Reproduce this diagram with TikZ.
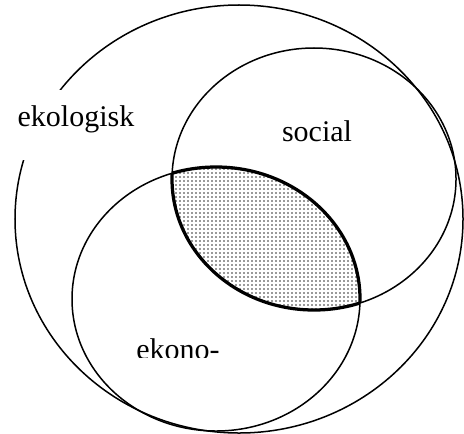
\documentclass[tikz,border=0pt]{standalone}
\usepackage{fontspec}
\setmainfont{Liberation Serif}
\usetikzlibrary{patterns.meta}
\tikzstyle{ring} = [line width=0.6pt]
\tikzstyle{lens} = [line width=1.3pt]
\tikzstyle{label} = [font=\fontsize{12pt}{14pt}\selectfont, inner sep=0pt, anchor=base]
\tikzdeclarepattern{
  name=fine dots, type=uncolored,
  bottom left={(-.4pt,-.4pt)}, top right={(.4pt,.4pt)},
  tile size={(1.6pt,1.6pt)},
  code={\fill (0,0) circle (.35pt);}}
\def\bigring{(239,219) ellipse [x radius=89.6pt, y radius=85.6pt]}
\def\socring{(314,179) ellipse [x radius=56.8pt, y radius=52.4pt]}
\def\ekoring{(216,299) ellipse [x radius=57.6pt, y radius=52.8pt]}

\begin{document}
\begin{tikzpicture}[x=0.4pt, y=-0.4pt]
    \useasboundingbox (0,0) rectangle (464,433);
    % shaded overlap
    \begin{scope}
      \clip \socring;
      \fill[pattern=fine dots, pattern color=black!80] \ekoring;
      \draw[lens] \ekoring;
    \end{scope}
    \begin{scope}
      \clip \ekoring;
      \draw[lens] \socring;
    \end{scope}
    \draw[ring] \bigring;
    \draw[ring] \socring;
    \draw[ring] \ekoring;
    \node[label, fill=white, text height=14.4pt, text depth=13.6pt] (ekologisk) at (76,126) {ekologisk};
    \node[label] (social) at (317,141) {social};
    \begin{scope}
      \clip (0,0) rectangle (464,357);
      \node[label] (ekonomi) at (178,359) {ekono-};
    \end{scope}
  \end{tikzpicture}
\end{document}
